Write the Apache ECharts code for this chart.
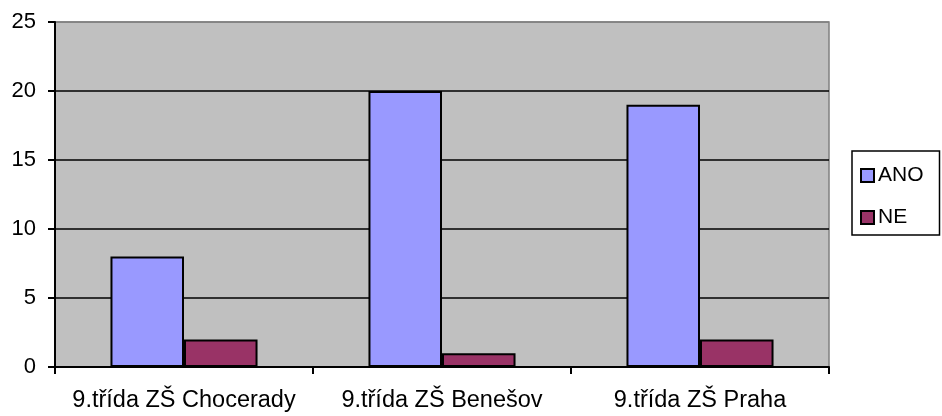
<!DOCTYPE html>
<html>
<head>
<meta charset="utf-8">
<script src="https://cdn.jsdelivr.net/npm/echarts@6/dist/echarts.min.js"></script>
<style>
html,body{margin:0;padding:0;background:#fff;}
#chart{width:942px;height:416px;}
</style>
</head>
<body>
<div id="chart"></div>
<script>
const categories = ['9.třída ZŠ Chocerady', '9.třída ZŠ Benešov', '9.třída ZŠ Praha'];
const seriesNames = ['ANO', 'NE'];
const anoValues = [8, 20, 19];
const neValues = [2, 1, 2];
const yTicks = [0, 5, 10, 15, 20, 25];

const FONT = '"Liberation Sans", Arial, sans-serif';
const chart = echarts.init(document.getElementById('chart'), null, {renderer: 'canvas'});
chart.setOption({
  animation: false,
  backgroundColor: '#ffffff',
  textStyle: {fontFamily: FONT, color: '#000'},
  grid: {
    left: 55, right: 113, top: 22, bottom: 49,
    show: true, backgroundColor: '#c0c0c0', borderColor: '#808080', borderWidth: 1.5,
    containLabel: false
  },
  legend: {
    orient: 'vertical',
    left: 852, top: 151,
    padding: [14, 16, 7, 8],
    itemWidth: 13, itemHeight: 13,
    itemGap: 21,
    icon: 'rect',
    backgroundColor: '#ffffff',
    borderColor: '#000', borderWidth: 1.5,
    textStyle: {fontFamily: FONT, fontSize: 21, color: '#000', padding: [0,0,0,-1]},
    data: seriesNames
  },
  xAxis: {
    type: 'category',
    data: categories,
    axisLine: {show: true, lineStyle: {color: '#000', width: 2}},
    axisTick: {show: true, alignWithLabel: false, length: 7, lineStyle: {color: '#000', width: 2}},
    axisLabel: {fontFamily: FONT, fontSize: 23.5, color: '#000', margin: 22, interval: 0},
    splitLine: {show: false}
  },
  yAxis: {
    type: 'value',
    min: yTicks[0], max: yTicks[yTicks.length - 1], interval: 5,
    axisLine: {show: true, lineStyle: {color: '#000', width: 2}},
    axisTick: {show: true, length: 7, lineStyle: {color: '#000', width: 2}},
    axisLabel: {fontFamily: FONT, fontSize: 22, color: '#000', margin: 19},
    splitLine: {show: true, lineStyle: {color: ['#000', '#000', '#000', '#000', '#000', '#808080'], width: 1.5}}
  },
  series: [
    {
      name: seriesNames[0], type: 'bar', data: anoValues,
      barGap: '0%', barCategoryGap: '43%',
      itemStyle: {color: '#9999ff', borderColor: '#000', borderWidth: 2}
    },
    {
      name: seriesNames[1], type: 'bar', data: neValues,
      barGap: '0%', barCategoryGap: '43%',
      itemStyle: {color: '#993366', borderColor: '#000', borderWidth: 2}
    }
  ]
});
</script>
</body>
</html>
